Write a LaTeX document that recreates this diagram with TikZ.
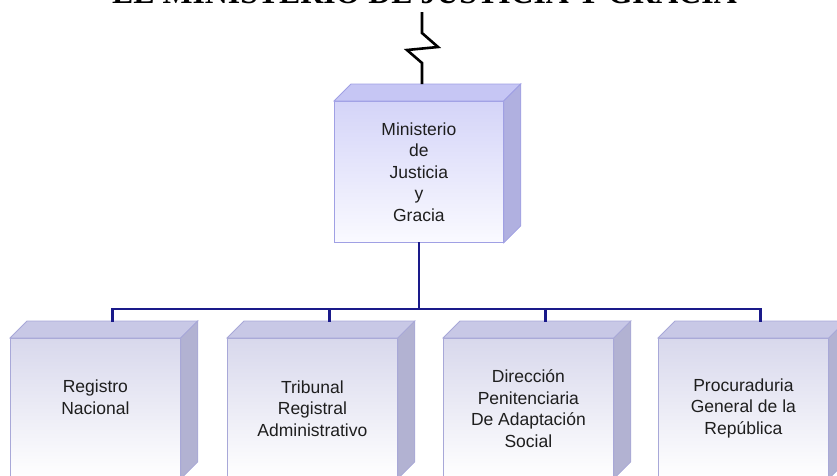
\documentclass[tikz,border=0pt]{standalone}
\usepackage{fontspec}
\setmainfont{Liberation Sans}
\newfontfamily\titleserif{Liberation Serif}
\usetikzlibrary{calc}
\definecolor{mtop}{HTML}{C6C6F4}
\definecolor{mside}{HTML}{B0B0E0}
\definecolor{mfronttop}{HTML}{D4D4F8}
\definecolor{mfrontbot}{HTML}{FAFAFF}
\definecolor{medge}{HTML}{A0A0E4}
\definecolor{ctop}{HTML}{C8C8E6}
\definecolor{cside}{HTML}{B2B2D2}
\definecolor{cfronttop}{HTML}{D8D8EC}
\definecolor{cfrontbot}{HTML}{FFFFFF}
\definecolor{cedge}{HTML}{A8A8D8}
\definecolor{navy}{HTML}{1A1A8A}
\definecolor{txt}{HTML}{1E1E1E}
\tikzset{
  boxtext/.style={font=\fontsize{17.5}{21.5}\selectfont, text=txt, align=center},
  mainface/.style={rectangle, inner sep=0pt, minimum width=169pt, minimum height=141pt,
    top color=mfronttop, bottom color=mfrontbot, draw=medge, line width=0.8pt},
  childface/.style={rectangle, inner sep=0pt, minimum width=170pt, minimum height=140pt,
    top color=cfronttop, bottom color=cfrontbot, draw=cedge, line width=0.8pt},
  conn/.style={draw=navy, line width=2.6pt, line cap=rect},
  breakline/.style={draw=black, line width=2.6pt, line join=miter}
}
\begin{document}
\begin{tikzpicture}[x=1pt,y=-1pt]
\useasboundingbox (0,0) rectangle (837,475);
\clip (0,0) rectangle (837,475);
% title (only its bottom is visible)
\node[font=\titleserif\bfseries\fontsize{31.8}{34}\selectfont, anchor=base, inner sep=0pt] (title) at (424.5,3) {EL MINISTERIO DE JUSTICIA Y GRACIA};
% main box
\node[mainface, anchor=north west] (m) at (334,101) {};
\filldraw[fill=mtop, draw=medge, line width=0.8pt] (m.north west) -- ++(17,-17) -- ([shift={(17,-17)}]m.north east) -- (m.north east) -- cycle;
\filldraw[fill=mside, draw=medge, line width=0.8pt] (m.north east) -- ++(17,-17) -- ([shift={(17,-17)}]m.south east) -- (m.south east) -- cycle;
\node[boxtext] (mt) at (m.center) {Ministerio\\de\\Justicia\\y\\Gracia};
% break line above main box
\coordinate (z0) at (422,12);
\coordinate (mtopc) at (422,84);
\draw[breakline] (z0) -- (422,33) -- (438,47) -- (407,50) -- (422,63) -- (mtopc);
% child boxes
\foreach \n/\x in {c1/10, c2/227, c3/443, c4/658}{
  \node[childface, anchor=north west] (\n) at (\x,338) {};
  \filldraw[fill=ctop, draw=cedge, line width=0.8pt] (\n.north west) -- ++(17,-17) -- ([shift={(17,-17)}]\n.north east) -- (\n.north east) -- cycle;
  \filldraw[fill=cside, draw=cedge, line width=0.8pt] (\n.north east) -- ++(17,-17) -- ([shift={(17,-17)}]\n.south east) -- (\n.south east) -- cycle;
  \coordinate (\n top) at ([shift={(17,-17)}]\n.north);
}
\node[boxtext] (t1) at ([yshift=11]c1.center) {Registro\\Nacional};
\node[boxtext] (t2) at (c2.center) {Tribunal\\Registral\\Administrativo};
\node[boxtext] (t3) at (c3.center) {Dirección\\Penitenciaria\\De Adaptación\\Social};
\node[boxtext] (t4) at (c4.center) {Procuraduria\\General de la\\República};
% connectors
\coordinate (bus) at (m.south |- 0,309);
\draw[conn] (m.south) -- (bus);
\draw[conn] (c1top) -- (c1top |- bus) -- (c4top |- bus) -- (c4top);
\draw[conn] (c2top) -- (c2top |- bus);
\draw[conn] (c3top) -- (c3top |- bus);
\end{tikzpicture}
\end{document}
